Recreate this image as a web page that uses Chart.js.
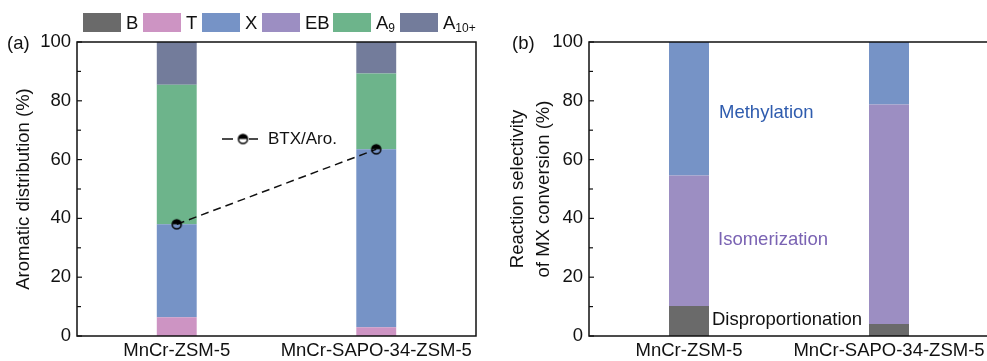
<!DOCTYPE html>
<html>
<head>
<meta charset="utf-8">
<script src="https://cdn.jsdelivr.net/npm/chart.js@4/dist/chart.umd.min.js"></script>
<style>
  html, body { margin: 0; padding: 0; background: #fff; overflow: hidden; }
  #wrap { position: relative; width: 987px; height: 361px; overflow: hidden; }
  #chartA { position: absolute; left: 0; top: 0; }
  #chartB { position: absolute; left: 500px; top: 0; }
</style>
</head>
<body>
<div id="wrap">
  <canvas id="chartA" width="500" height="361"></canvas>
  <canvas id="chartB" width="510" height="361"></canvas>
</div>
<script>
// dados
const categorias = ['MnCr-ZSM-5', 'MnCr-SAPO-34-ZSM-5'];
const yTicks = [0, 20, 40, 60, 80, 100];

// (a) distribuição dos aromáticos (%)
const nomesA = ['B', 'T', 'X', 'EB', 'A_9', 'A_10+'];
const valB = [0, 0];
const valT = [6.4, 3.0];
const valX = [31.6, 60.5];
const valEB = [0, 0];
const valA9 = [47.5, 25.8];
const valA10 = [14.5, 10.7];
const btxAro = [38.0, 63.5];

// (b) seletividade de reação da conversão de MX (%)
const nomesB = ['Disproportionation', 'Isomerization', 'Methylation'];
const valDispro = [10.2, 4.1];
const valIsom = [44.4, 74.6];
const valMetil = [45.4, 21.3];

const cores = {
    B: '#6a6a6a',
    T: '#cd94c3',
    X: '#7693c6',
    EB: '#9c8ec2',
    A9: '#6db48b',
    A10: '#737c9b'
};

const FONTE = "'Liberation Sans', Arial, sans-serif";
const TAM = 18.5;
Chart.defaults.font.family = FONTE;
Chart.defaults.font.size = TAM;
Chart.defaults.color = '#111';

// marcador meio preenchido
function criarMarcador(raio, fundo) {
    const c = document.createElement('canvas');
    const s = raio * 2 + 4;
    c.width = s; c.height = s;
    const g = c.getContext('2d');
    const m = s / 2;
    if (fundo) {
        g.beginPath(); g.arc(m, m, raio, 0, Math.PI * 2); g.fillStyle = fundo; g.fill();
    }
    g.beginPath(); g.arc(m, m, raio, Math.PI, 0); g.closePath();
    g.fillStyle = '#000'; g.fill();
    g.beginPath(); g.arc(m, m, raio, 0, Math.PI * 2);
    g.lineWidth = 1.5; g.strokeStyle = '#000'; g.stroke();
    return c;
}
const marcador = criarMarcador(4.5, null);
const marcadorLegenda = criarMarcador(4.5, '#fff');

// moldura + ticks internos + rótulo do painel
function desenharMoldura(chart, rotulo, xRotulo) {
    const ctx = chart.ctx;
    const a = chart.chartArea;
    const y = chart.scales.y;
    ctx.save();
    ctx.strokeStyle = '#111';
    ctx.lineWidth = 1.5;
    ctx.strokeRect(a.left, a.top, a.right - a.left, a.bottom - a.top);
    ctx.lineWidth = 1.2;
    for (let v = 0; v <= 100; v += 10) {
        const py = y.getPixelForValue(v);
        const len = v % 20 === 0 ? 5 : 4;
        ctx.beginPath();
        ctx.moveTo(a.left, py);
        ctx.lineTo(a.left + len, py);
        ctx.stroke();
    }
    ctx.fillStyle = '#111';
    ctx.font = TAM + 'px ' + FONTE;
    ctx.textAlign = 'left';
    ctx.textBaseline = 'middle';
    ctx.fillText(rotulo, xRotulo, 44);
    ctx.restore();
}

// posição x das caixas da legenda superior
const xCaixas = [83, 143, 202, 262, 333, 400];

const pluginA = {
    id: 'extrasA',
    afterDatasetsDraw(chart) {
        desenharMoldura(chart, '(a)', 7);
        const ctx = chart.ctx;
        ctx.save();
        const topo = 13, hCaixa = 19, wCaixa = 38;
        chart.data.datasets.filter(ds => ds.type !== 'line').forEach((ds, i) => {
            let x = xCaixas[i];
            ctx.fillStyle = ds.backgroundColor;
            ctx.fillRect(x, topo, wCaixa, hCaixa);
            x += wCaixa + 5;
            const partes = ds.label.split('_');
            ctx.fillStyle = '#111';
            ctx.textBaseline = 'middle';
            ctx.textAlign = 'left';
            ctx.font = TAM + 'px ' + FONTE;
            ctx.fillText(partes[0], x, topo + hCaixa / 2 + 1);
            x += ctx.measureText(partes[0]).width;
            if (partes[1]) {
                ctx.font = '12px ' + FONTE;
                ctx.fillText(partes[1], x, topo + hCaixa / 2 + 6);
            }
        });
        // legenda BTX/Aro.
        const ly = 139;
        ctx.strokeStyle = '#111';
        ctx.lineWidth = 1.5;
        ctx.beginPath();
        ctx.moveTo(222, ly); ctx.lineTo(233, ly);
        ctx.moveTo(249, ly); ctx.lineTo(258, ly);
        ctx.stroke();
        ctx.drawImage(marcadorLegenda, 243 - marcadorLegenda.width / 2, ly - marcadorLegenda.height / 2);
        ctx.fillStyle = '#111';
        ctx.font = '17px ' + FONTE;
        ctx.textAlign = 'left';
        ctx.textBaseline = 'middle';
        ctx.fillText('BTX/Aro.', 268, ly);
        ctx.restore();
    }
};

const pluginB = {
    id: 'extrasB',
    afterDatasetsDraw(chart) {
        desenharMoldura(chart, '(b)', 12);
        const ctx = chart.ctx;
        const xs = chart.scales.x;
        const ys = chart.scales.y;
        const x0 = xs.getPixelForValue(0);
        ctx.save();
        ctx.font = TAM + 'px ' + FONTE;
        ctx.textAlign = 'left';
        ctx.textBaseline = 'middle';
        ctx.fillStyle = '#2f5cae';
        ctx.fillText('Methylation', x0 + 30, ys.getPixelForValue(75.8));
        ctx.fillStyle = '#7a63b3';
        ctx.fillText('Isomerization', x0 + 29, ys.getPixelForValue(32.8));
        const yd = ys.getPixelForValue(5.5);
        const wd = ctx.measureText('Disproportionation').width;
        ctx.fillStyle = '#fff';
        ctx.fillRect(x0 + 21, yd - 10, wd + 4, 20);
        ctx.fillStyle = '#111';
        ctx.fillText('Disproportionation', x0 + 23, yd);
        ctx.restore();
    }
};

function eixos(larguraY, titulo) {
    return {
        x: {
            stacked: true,
            grid: { display: false, drawTicks: false },
            border: { display: false },
            ticks: { padding: 4, maxRotation: 0, autoSkip: false },
            afterFit: s => { s.height = 25; }
        },
        y: {
            stacked: true,
            min: 0,
            max: 100,
            afterBuildTicks: s => { s.ticks = yTicks.map(v => ({ value: v })); },
            grid: { display: false, drawTicks: false },
            border: { display: false },
            ticks: { padding: 6 },
            title: titulo,
            afterFit: s => { s.width = larguraY; }
        }
    };
}

function barra(label, dados, cor) {
    return {
        type: 'bar',
        label: label,
        data: dados,
        backgroundColor: cor,
        borderWidth: 0,
        barPercentage: 0.2,
        categoryPercentage: 1,
        stack: 'a',
        order: 1
    };
}

new Chart(document.getElementById('chartA').getContext('2d'), {
    type: 'bar',
    data: {
        labels: categorias,
        datasets: [
            barra(nomesA[0], valB, cores.B),
            barra(nomesA[1], valT, cores.T),
            barra(nomesA[2], valX, cores.X),
            barra(nomesA[3], valEB, cores.EB),
            barra(nomesA[4], valA9, cores.A9),
            barra(nomesA[5], valA10, cores.A10),
            {
                type: 'line',
                label: 'BTX/Aro.',
                data: btxAro,
                stack: 'linha',
                order: 0,
                borderColor: '#111',
                borderWidth: 1.5,
                borderDash: [8, 5],
                pointStyle: marcador,
                pointRadius: 5,
                fill: false
            }
        ]
    },
    options: {
        responsive: false,
        animation: false,
        events: [],
        layout: { padding: { top: 42, right: 24, left: 0, bottom: 0 } },
        plugins: { legend: { display: false }, tooltip: { enabled: false } },
        scales: eixos(77, {
            display: true,
            text: 'Aromatic distribution (%)',
            padding: { top: 13, bottom: 0 },
            font: { size: TAM }
        })
    },
    plugins: [pluginA]
});

new Chart(document.getElementById('chartB').getContext('2d'), {
    type: 'bar',
    data: {
        labels: categorias,
        datasets: [
            barra(nomesB[0], valDispro, cores.B),
            barra(nomesB[1], valIsom, cores.EB),
            barra(nomesB[2], valMetil, cores.X)
        ]
    },
    options: {
        responsive: false,
        animation: false,
        events: [],
        layout: { padding: { top: 42, right: 21, left: 0, bottom: 0 } },
        plugins: { legend: { display: false }, tooltip: { enabled: false } },
        scales: eixos(89, {
            display: true,
            text: ['Reaction selectivity', 'of MX conversion (%)'],
            padding: { top: 4, bottom: 0 },
            font: { size: TAM, lineHeight: 1.45 }
        })
    },
    plugins: [pluginB]
});
</script>
</body>
</html>
